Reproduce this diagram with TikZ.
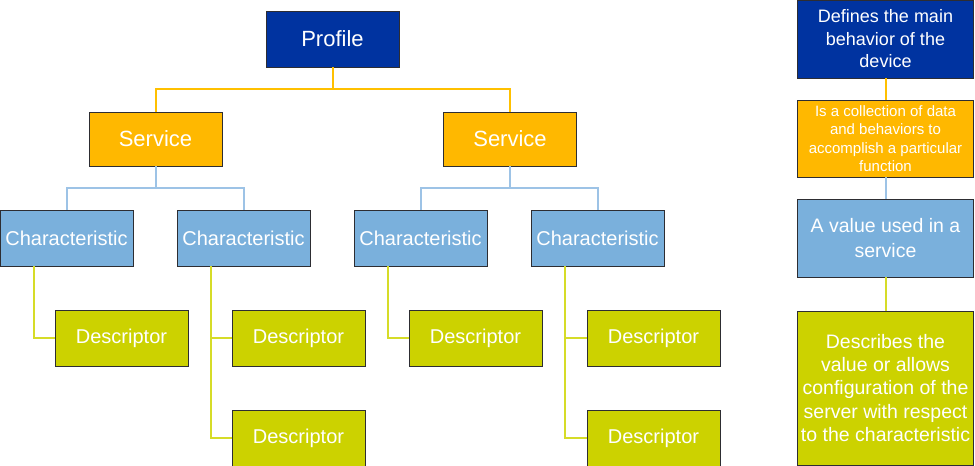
\documentclass[tikz,border=0pt]{standalone}
\usepackage{fontspec}
\setmainfont{Liberation Sans}
\definecolor{cProf}{RGB}{0,51,160}
\definecolor{cServ}{RGB}{255,184,0}
\definecolor{cChar}{RGB}{122,176,220}
\definecolor{cDesc}{RGB}{204,210,0}
\definecolor{lServ}{RGB}{255,192,0}
\definecolor{lChar}{RGB}{157,195,230}
\definecolor{lDesc}{RGB}{214,220,40}
\definecolor{cEdge}{RGB}{45,45,50}
\begin{document}
\begin{tikzpicture}[x=1pt,y=-1pt,
  box/.style={draw=cEdge,line width=0.9pt,inner sep=0pt,text=white,align=center,minimum width=133pt,minimum height=56pt},
  profbox/.style={box,fill=cProf,font=\fontsize{22}{26}\selectfont},
  servbox/.style={box,fill=cServ,minimum height=54pt,font=\fontsize{22}{26}\selectfont},
  charbox/.style={box,fill=cChar,font=\fontsize{20}{24}\selectfont},
  descbox/.style={box,fill=cDesc,font=\fontsize{20}{24}\selectfont},
  sidebox/.style={minimum width=176pt},
  oline/.style={draw=lServ,line width=2pt},
  bline/.style={draw=lChar,line width=2pt},
  gline/.style={draw=lDesc,line width=2pt}]
\useasboundingbox (0,0) rectangle (975,466);
% main tree
\node[profbox] (profile) at (332.5,39) {Profile};
\node[servbox] (s1) at (155.5,139) {Service};
\node[servbox] (s2) at (510,139) {Service};
\node[charbox] (c1) at (66.5,238) {Characteristic};
\node[charbox] (c2) at (243.5,238) {Characteristic};
\node[charbox] (c3) at (420.5,238) {Characteristic};
\node[charbox] (c4) at (597.5,238) {Characteristic};
\node[descbox] (d1) at (121.5,338) {Descriptor};
\node[descbox] (d2) at (298.5,338) {Descriptor};
\node[descbox] (d3) at (298.5,438) {Descriptor};
\node[descbox] (d4) at (475.5,338) {Descriptor};
\node[descbox] (d5) at (653.5,338) {Descriptor};
\node[descbox] (d6) at (653.5,438) {Descriptor};
% side column
\node[box,sidebox,fill=cProf,minimum height=78pt,font=\fontsize{18}{22.5}\selectfont] (r1) at (885.5,39) {Defines the main\\behavior of the\\device};
\node[box,sidebox,fill=cServ,minimum height=77pt,font=\fontsize{15}{18.5}\selectfont] (r2) at (885.5,138.5) {Is a collection of data\\and behaviors to\\accomplish a particular\\function};
\node[box,sidebox,fill=cChar,minimum height=78pt,font=\fontsize{19.5}{25}\selectfont] (r3) at (885.5,238) {A value used in a\\service};
\node[box,sidebox,fill=cDesc,minimum height=154pt,font=\fontsize{19.5}{23.3}\selectfont] (r4) at (885.5,388) {Describes the\\value or allows\\configuration of the\\server with respect\\to the characteristic};
% junctions
\coordinate (pj) at (332.5,89);
\coordinate (j1) at (155.5,188);
\coordinate (j2) at (510,188);
% connectors
\draw[oline] (profile.south) -- (pj);
\draw[oline] (pj) -| (s1.north);
\draw[oline] (pj) -| (s2.north);
\draw[bline] (s1.south) -- (j1);
\draw[bline] (j1) -| (c1.north);
\draw[bline] (j1) -| (c2.north);
\draw[bline] (s2.south) -- (j2);
\draw[bline] (j2) -| (c3.north);
\draw[bline] (j2) -| (c4.north);
\draw[gline] ([xshift=-33pt]c1.south) |- (d1.west);
\draw[gline] ([xshift=-33pt]c2.south) |- (d2.west);
\draw[gline] ([xshift=-33pt]c2.south) |- (d3.west);
\draw[gline] ([xshift=-33pt]c3.south) |- (d4.west);
\draw[gline] ([xshift=-33pt]c4.south) |- (d5.west);
\draw[gline] ([xshift=-33pt]c4.south) |- (d6.west);
\draw[oline] (r1.south) -- (r2.north);
\draw[bline] (r2.south) -- (r3.north);
\draw[gline] (r3.south) -- (r4.north);
\end{tikzpicture}
\end{document}
